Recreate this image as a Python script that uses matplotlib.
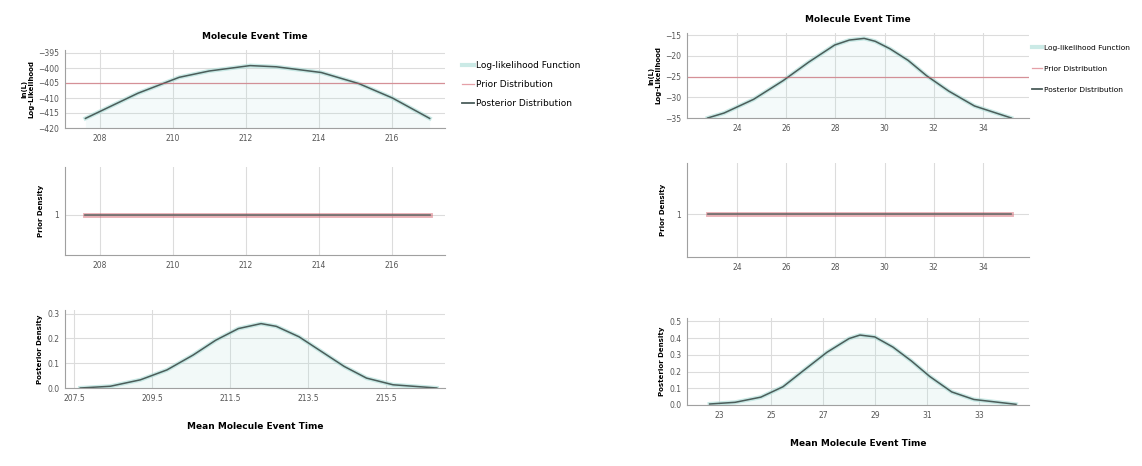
import numpy as np
import matplotlib.pyplot as plt

# ---- data ----
# left column: mean molecule event time ~ 212
left_ll_x = [207.6, 209.04, 210.17, 210.99, 212.11, 212.83, 214.06, 215.09, 216.01, 217.03]
left_ll_y = [-416.8, -408.4, -403.1, -401.0, -399.2, -399.6, -401.5, -405.2, -410.0, -416.8]
left_prior_level = -405
left_xticks = [208, 210, 212, 214, 216]
left_yticks = [-420, -415, -410, -405, -400, -395]

left_prior_x = [207.6, 217.03]
left_prior_y = [1, 1]

left_post_x = [207.66, 208.43, 209.2, 209.88, 210.55, 211.13, 211.71, 212.29, 212.68,
               213.26, 213.84, 214.42, 214.99, 215.67, 216.79]
left_post_y = [0.0, 0.007, 0.033, 0.073, 0.133, 0.193, 0.24, 0.26, 0.249,
               0.207, 0.147, 0.087, 0.04, 0.013, 0.0]
left_post_xticks = [207.5, 209.5, 211.5, 213.5, 215.5]
left_post_yticks = [0.0, 0.1, 0.2, 0.3]

# right column: mean molecule event time ~ 29
right_ll_x = [22.8, 23.47, 24.67, 25.87, 26.92, 27.97, 28.57, 29.17, 29.62, 30.22,
              30.96, 31.71, 32.61, 33.66, 35.16]
right_ll_y = [-35.0, -33.8, -30.5, -26.0, -21.5, -17.4, -16.2, -15.8, -16.5, -18.3,
              -21.1, -24.8, -28.5, -32.1, -35.0]
right_prior_level = -25
right_xticks = [24, 26, 28, 30, 32, 34]
right_yticks = [-35, -30, -25, -20, -15]

right_prior_x = [22.8, 35.16]
right_prior_y = [1, 1]

right_post_x = [22.64, 23.62, 24.61, 25.46, 26.30, 27.15, 28.0, 28.42, 28.99, 29.69,
                30.40, 31.1, 31.95, 32.80, 34.42]
right_post_y = [0.006, 0.016, 0.047, 0.109, 0.212, 0.315, 0.397, 0.418, 0.407, 0.346,
                0.263, 0.171, 0.078, 0.033, 0.004]
right_post_xticks = [23, 25, 27, 29, 31, 33]
right_post_yticks = [0.0, 0.1, 0.2, 0.3, 0.4, 0.5]

title = 'Molecule Event Time'
xlabel = 'Mean Molecule Event Time'
legend_labels = ['Log-likelihood Function', 'Prior Distribution', 'Posterior Distribution']

teal = '#a9dcd6'
red = '#d0525f'
dark = '#4b5d5a'
grid_c = '#dcdcdc'

W, H = 1142, 466
fig = plt.figure(figsize=(W / 100, H / 100), dpi=100)


def rect(x0, x1, top, bottom):
    return [x0 / W, 1 - bottom / H, (x1 - x0) / W, (bottom - top) / H]


def style(ax, xticks, yticks, fmt=None):
    ax.set_xticks(xticks)
    ax.set_yticks(yticks)
    if fmt:
        ax.set_yticklabels([fmt.format(v) for v in yticks])
    for s in ['top', 'right']:
        ax.spines[s].set_visible(False)
    for s in ['left', 'bottom']:
        ax.spines[s].set_color('#a0a0a0')
        ax.spines[s].set_linewidth(0.8)
    ax.tick_params(labelsize=5.5, length=0, pad=4, colors='#555555')
    ax.grid(True, color=grid_c, linewidth=0.8)
    ax.set_axisbelow(True)


cols = [
    dict(x0=65, x1=445, tops=[(50, 128), (167, 255), (310, 388)],
         ll_x=left_ll_x, ll_y=left_ll_y, prior=left_prior_level,
         xt=left_xticks, yt=left_yticks, xlim=(207.04, 217.45), ylim=(-420, -394),
         pr_x=left_prior_x, pr_y=left_prior_y,
         po_x=left_post_x, po_y=left_post_y, po_xt=left_post_xticks, po_yt=left_post_yticks,
         po_xlim=(207.27, 217.0), po_ylim=(0, 0.315), fmt='{:.1f}',
         legend_at=(1.03, 0.93), legend_fs=6.5, legend_sp=1.1),
    dict(x0=687, x1=1029, tops=[(33, 118), (163, 257), (318, 405)],
         ll_x=right_ll_x, ll_y=right_ll_y, prior=right_prior_level,
         xt=right_xticks, yt=right_yticks, xlim=(21.96, 35.88), ylim=(-35, -14.5),
         pr_x=right_prior_x, pr_y=right_prior_y,
         po_x=right_post_x, po_y=right_post_y, po_xt=right_post_xticks, po_yt=right_post_yticks,
         po_xlim=(21.77, 34.92), po_ylim=(0, 0.52), fmt='{:.1f}',
         legend_at=(0.995, 0.92), legend_fs=5.4, legend_sp=2.0),
]

for c in cols:
    (t1, b1), (t2, b2), (t3, b3) = c['tops']

    # log-likelihood panel
    ax = fig.add_axes(rect(c['x0'], c['x1'], t1, b1))
    ax.fill_between(c['ll_x'], c['ylim'][0], c['ll_y'], color=teal, alpha=0.12, lw=0)
    l1, = ax.plot(c['ll_x'], c['ll_y'], color=teal, lw=3, alpha=0.6,
                  solid_joinstyle='round')
    ax.plot(c['ll_x'], c['ll_y'], color=dark, lw=1.1, solid_joinstyle='round')
    l2 = ax.axhline(c['prior'], color=red, lw=0.9, alpha=0.55)
    l3, = ax.plot([], [], color=dark, lw=1.3)
    ax.set_xlim(*c['xlim'])
    ax.set_ylim(*c['ylim'])
    style(ax, c['xt'], c['yt'])
    ax.set_ylabel('ln(L)\nLog-Likelihood', fontsize=5, fontweight='bold', labelpad=3)
    ax.set_title(title, fontsize=6.5, fontweight='bold', pad=8)
    ax.legend([l1, l2, l3], legend_labels, loc='upper left', bbox_to_anchor=c['legend_at'],
              frameon=False, fontsize=c['legend_fs'], handlelength=1.3,
              labelspacing=c['legend_sp'], handletextpad=0.3, borderaxespad=0.2)

    # prior panel
    ax = fig.add_axes(rect(c['x0'], c['x1'], t2, b2))
    ax.plot(c['pr_x'], c['pr_y'], color=red, lw=3.5, alpha=0.45)
    ax.plot(c['pr_x'], c['pr_y'], color=dark, lw=1.2, alpha=0.8)
    ax.set_xlim(*c['xlim'])
    ax.set_ylim(0, 2.2)
    style(ax, c['xt'], [1])
    ax.set_ylabel('Prior Density', fontsize=5, fontweight='bold', labelpad=8)

    # posterior panel
    ax = fig.add_axes(rect(c['x0'], c['x1'], t3, b3))
    ax.fill_between(c['po_x'], 0, c['po_y'], color=teal, alpha=0.15, lw=0)
    ax.plot(c['po_x'], c['po_y'], color=teal, lw=3, alpha=0.6, solid_joinstyle='round')
    ax.plot(c['po_x'], c['po_y'], color=dark, lw=1.1, solid_joinstyle='round')
    ax.set_xlim(*c['po_xlim'])
    ax.set_ylim(*c['po_ylim'])
    style(ax, c['po_xt'], c['po_yt'], c['fmt'])
    ax.set_xticklabels([f'{v:g}' for v in c['po_xt']])
    ax.set_ylabel('Posterior Density', fontsize=5, fontweight='bold', labelpad=3)
    ax.set_xlabel(xlabel, fontsize=6.5, fontweight='bold', labelpad=14)

fig.savefig('out.png', dpi=100, facecolor='white')
